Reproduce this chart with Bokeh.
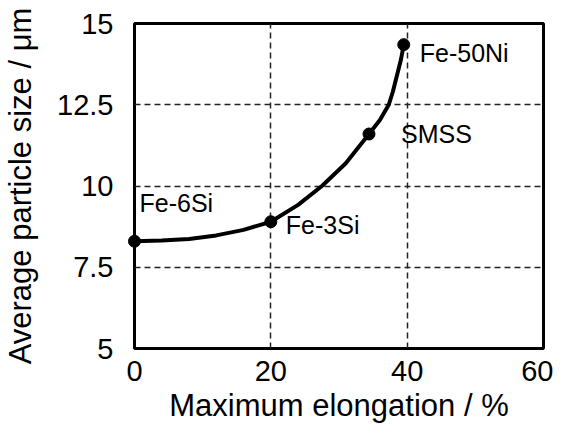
from bokeh.plotting import figure
from bokeh.models import Range1d, FixedTicker, ColumnDataSource
from bokeh.core.properties import value
from bokeh.embed import file_html
from bokeh.resources import INLINE

# Data
alloys = ["Fe-6Si", "Fe-3Si", "SMSS", "Fe-50Ni"]
elongation = [0, 20, 34.4, 39.5]
particle_size = [8.30, 8.90, 11.6, 14.35]

# Fitted curve
curve_x = [0, 4, 8, 12, 16, 20, 24, 27.5, 31, 34.4, 36, 37.3, 37.9, 38.5, 39.1, 39.5]
curve_y = [8.30, 8.32, 8.37, 8.48, 8.65, 8.90, 9.42, 10.0, 10.7, 11.6, 12.03,
           12.5, 12.9, 13.4, 13.9, 14.35]

x_ticks = [0, 20, 40, 60]
y_ticks = [5, 7.5, 10, 12.5, 15]
y_tick_labels = ["5", "7.5", "10", "12.5", "15"]

label_dx = [5, 15, 32, 16]
label_dy = [-38, 3, 0, 8]

FONT = "Liberation Sans"

p = figure(width=553, height=425, output_backend="svg", toolbar_location=None,
           x_range=Range1d(0, 60), y_range=Range1d(5, 15),
           min_border_left=125, min_border_right=10,
           min_border_top=23, min_border_bottom=70)
p.background_fill_color = "white"
p.border_fill_color = "white"
p.outline_line_color = "black"
p.outline_line_width = 3

p.line(curve_x, curve_y, line_color="black", line_width=4, line_join="round")
pts = p.scatter(elongation, particle_size, size=12, fill_color="black", line_color="black")
pts.level = "overlay"

src = ColumnDataSource(dict(x=elongation, y=particle_size, t=alloys,
                            dx=label_dx, dy=label_dy))
p.text(x="x", y="y", text="t", x_offset="dx", y_offset="dy", source=src,
       text_font=value(FONT), text_font_size="25px", text_color="black",
       text_align="left", text_baseline="middle")

# axes
p.xaxis.ticker = FixedTicker(ticks=x_ticks)
p.yaxis.ticker = FixedTicker(ticks=y_ticks)
p.yaxis.major_label_overrides = {t: l for t, l in zip(y_ticks, y_tick_labels)}
for ax in (p.xaxis[0], p.yaxis[0]):
    ax.axis_line_color = None
    ax.major_tick_line_color = None
    ax.minor_tick_line_color = None
    ax.major_label_text_font = FONT
    ax.major_label_text_font_size = "29px"
    ax.major_label_text_color = "black"
    ax.axis_label_text_font = FONT
    ax.axis_label_text_font_size = "31px"
    ax.axis_label_text_font_style = "normal"
    ax.axis_label_text_color = "black"
p.xaxis.axis_label = "Maximum elongation / %"
p.yaxis.axis_label = "Average particle size / \u03bcm"
p.xaxis.major_label_standoff = 6
p.yaxis.major_label_standoff = 15
p.xaxis.axis_label_standoff = 4
p.yaxis.axis_label_standoff = 16

# grid
p.xgrid.ticker = FixedTicker(ticks=[20, 40])
p.ygrid.ticker = FixedTicker(ticks=[7.5, 10, 12.5])
for g in (p.xgrid[0], p.ygrid[0]):
    g.grid_line_color = "#222222"
    g.grid_line_width = 1.5
    g.grid_line_dash = "6 4"

open("out.html", "w").write(file_html(p, INLINE))
